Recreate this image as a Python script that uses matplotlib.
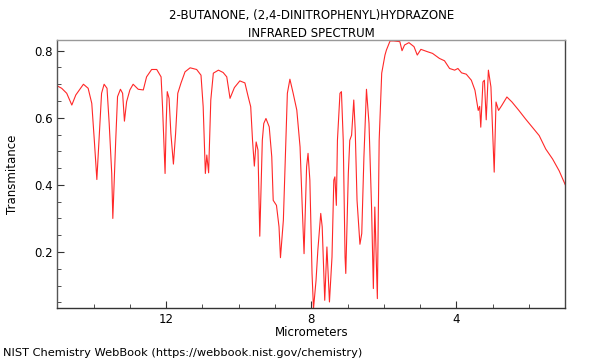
import matplotlib
matplotlib.use("Agg")
import matplotlib.pyplot as plt
from matplotlib.ticker import MultipleLocator

title = "2-BUTANONE, (2,4-DINITROPHENYL)HYDRAZONE\nINFRARED SPECTRUM"
xlabel = "Micrometers"
ylabel = "Transmitance"
footer = "NIST Chemistry WebBook (https://webbook.nist.gov/chemistry)"

micrometers = [
    15.0, 14.88, 14.74, 14.60, 14.49, 14.28, 14.15, 14.05, 13.98, 13.91,
    13.84, 13.78, 13.71, 13.63, 13.57, 13.50, 13.47, 13.39, 13.34, 13.26,
    13.20, 13.15, 13.09, 13.00, 12.91, 12.77, 12.63, 12.54, 12.40, 12.26,
    12.14, 12.10, 12.03, 12.00, 11.97, 11.92, 11.87, 11.80, 11.74, 11.68,
    11.59, 11.48, 11.34, 11.16, 11.04, 10.98, 10.92, 10.88, 10.83, 10.77,
    10.70, 10.56, 10.43, 10.33, 10.24, 10.12, 9.97, 9.83, 9.74, 9.67,
    9.62, 9.57, 9.52, 9.47, 9.42, 9.35, 9.31, 9.25, 9.16, 9.09,
    9.05, 8.96, 8.89, 8.85, 8.77, 8.73, 8.66, 8.59, 8.50, 8.40,
    8.31, 8.25, 8.20, 8.13, 8.09, 8.04, 7.98, 7.94, 7.87, 7.82,
    7.74, 7.70, 7.63, 7.57, 7.50, 7.43, 7.38, 7.35, 7.31, 7.28,
    7.21, 7.17, 7.12, 7.07, 7.05, 6.98, 6.94, 6.89, 6.83, 6.79,
    6.74, 6.66, 6.61, 6.55, 6.48, 6.41, 6.34, 6.29, 6.25, 6.18,
    6.13, 6.06, 5.97, 5.93, 5.83, 5.73, 5.56, 5.50, 5.43, 5.31,
    5.17, 5.08, 4.98, 4.80, 4.66, 4.47, 4.33, 4.19, 4.05, 3.96,
    3.86, 3.73, 3.59, 3.49, 3.40, 3.36, 3.33, 3.27, 3.23, 3.18,
    3.12, 3.05, 2.96, 2.91, 2.84, 2.75, 2.61, 2.47, 2.28, 2.10,
    1.91, 1.72, 1.54, 1.35, 1.17, 1.03, 1.00,
]
transmittance = [
    0.695, 0.688, 0.673, 0.638, 0.668, 0.700, 0.688, 0.643, 0.533, 0.416,
    0.553, 0.673, 0.700, 0.688, 0.583, 0.434, 0.300, 0.533, 0.663, 0.685,
    0.673, 0.590, 0.648, 0.683, 0.700, 0.685, 0.683, 0.722, 0.744, 0.744,
    0.722, 0.633, 0.434, 0.583, 0.678, 0.658, 0.553, 0.462, 0.553, 0.673,
    0.704, 0.737, 0.749, 0.744, 0.727, 0.633, 0.434, 0.489, 0.436, 0.653,
    0.733, 0.742, 0.735, 0.722, 0.658, 0.690, 0.710, 0.704, 0.663, 0.633,
    0.533, 0.456, 0.528, 0.504, 0.247, 0.533, 0.583, 0.598, 0.573, 0.484,
    0.354, 0.339, 0.275, 0.183, 0.295, 0.434, 0.673, 0.715, 0.673, 0.623,
    0.513, 0.334, 0.195, 0.454, 0.494, 0.414, 0.136, 0.031, 0.115, 0.205,
    0.315, 0.275, 0.056, 0.215, 0.051, 0.185, 0.414, 0.424, 0.339, 0.533,
    0.673, 0.678, 0.533, 0.185, 0.136, 0.434, 0.533, 0.548, 0.653, 0.563,
    0.354, 0.223, 0.255, 0.484, 0.685, 0.583, 0.334, 0.091, 0.334, 0.061,
    0.533, 0.733, 0.787, 0.802, 0.829, 0.829, 0.827, 0.800, 0.817, 0.824,
    0.812, 0.787, 0.804, 0.797, 0.792, 0.777, 0.770, 0.747, 0.742, 0.747,
    0.734, 0.730, 0.712, 0.682, 0.622, 0.634, 0.572, 0.707, 0.712, 0.594,
    0.742, 0.692, 0.438, 0.647, 0.622, 0.637, 0.662, 0.647, 0.622, 0.597,
    0.572, 0.547, 0.507, 0.477, 0.442, 0.407, 0.400,
]

fig = plt.figure(figsize=(6, 3.6), dpi=100)
ax = fig.add_axes([0.0955, 0.1444, 0.8467, 0.7446])
ax.plot(micrometers, transmittance, color="#ff2828", lw=0.8)

ax.set_xlim(15.0, 1.0)
ax.set_ylim(0.033, 0.832)
ax.xaxis.set_major_locator(MultipleLocator(4))
ax.xaxis.set_minor_locator(MultipleLocator(1))
ax.yaxis.set_major_locator(MultipleLocator(0.2))
ax.yaxis.set_minor_locator(MultipleLocator(0.05))
ax.set_xticks([12, 8, 4])
ax.tick_params(which="both", direction="in", labelsize=8.5, colors="#333333",
               labelcolor="black", top=False, right=False)
ax.tick_params(which="major", length=5, width=0.8)
ax.tick_params(which="minor", length=3, width=0.6)

ax.spines["top"].set_color("#999999")
ax.spines["right"].set_color("#444444")
ax.spines["left"].set_color("#555555")
ax.spines["bottom"].set_color("#333333")
for s in ax.spines.values():
    s.set_linewidth(1.0)

ax.set_xlabel(xlabel, fontsize=8.5, labelpad=0)
ax.set_ylabel(ylabel, fontsize=8.5, labelpad=11)
ax.set_title(title, fontsize=8.5, linespacing=1.45, pad=2)
fig.text(0.005, 0.012, footer, fontsize=8.2, ha="left", va="baseline")

fig.savefig("out.png", dpi=100)
